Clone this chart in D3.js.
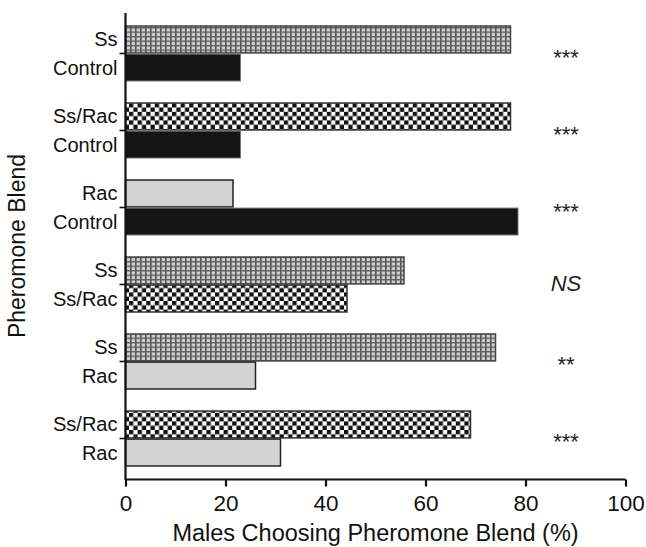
<!DOCTYPE html>
<html>
<head>
<meta charset="utf-8">
<script src="https://cdn.jsdelivr.net/npm/d3@7/dist/d3.min.js"></script>
<style>
  html, body { margin: 0; padding: 0; background: #fff; }
  svg { display: block; font-family: "Liberation Sans", Arial, sans-serif; }
</style>
</head>
<body>
<svg id="chart" width="646" height="547"></svg>
<script>
// ---- data ----
const comparisons = ["Ss vs Control", "Ss/Rac vs Control", "Rac vs Control", "Ss vs Ss/Rac", "Ss vs Rac", "Ss/Rac vs Rac"];
const topLabels = ["Ss", "Ss/Rac", "Rac", "Ss", "Ss", "Ss/Rac"];
const bottomLabels = ["Control", "Control", "Control", "Ss/Rac", "Rac", "Rac"];
const topValues = [77, 77, 21.5, 55.7, 74, 69];
const bottomValues = [23, 23, 78.5, 44.3, 26, 31];
const significance = ["***", "***", "***", "NS", "**", "***"];
const xTicks = [0, 20, 40, 60, 80, 100];

// ---- setup ----
const svg = d3.select("#chart");
const margin = { left: 125.5, right: 20.5, top: 13, bottom: 68 };
const W = 646, H = 547;

const x = d3.scaleLinear().domain([0, 100]).range([margin.left, W - margin.right]);
const y = d3.scaleBand().domain(comparisons).range([margin.top, H - margin.bottom])
  .paddingInner(0.286).paddingOuter(0.169);
const inner = d3.scaleBand().domain(["top", "bottom"]).range([0, y.bandwidth()]).paddingInner(0.04);

// ---- patterns ----
const defs = svg.append("defs");
const grid = defs.append("pattern").attr("id", "grid").attr("patternUnits", "userSpaceOnUse")
  .attr("width", 5).attr("height", 4.5);
grid.append("rect").attr("width", 5).attr("height", 4.5).attr("fill", "#cfcfcf");
grid.append("rect").attr("x", 0).attr("width", 1.6).attr("height", 4.5).attr("fill", "#555");
grid.append("rect").attr("y", 0).attr("width", 5).attr("height", 1.4).attr("fill", "#606060");

const checker = defs.append("pattern").attr("id", "checker").attr("patternUnits", "userSpaceOnUse")
  .attr("width", 8.6).attr("height", 8.6);
checker.append("rect").attr("width", 8.6).attr("height", 8.6).attr("fill", "#fff");
checker.append("rect").attr("width", 4.3).attr("height", 4.3).attr("fill", "#111");
checker.append("rect").attr("x", 4.3).attr("y", 4.3).attr("width", 4.3).attr("height", 4.3).attr("fill", "#111");

const styleFor = {
  "Ss": { fill: "url(#grid)", stroke: "#444", sw: 1.5 },
  "Ss/Rac": { fill: "url(#checker)", stroke: "#333", sw: 1.5 },
  "Control": { fill: "#151515", stroke: "#777", sw: 1 },
  "Rac": { fill: "#d3d3d3", stroke: "#222", sw: 1.5 }
};

// ---- bars ----
const barData = [];
comparisons.forEach((c, i) => {
  barData.push({ comp: c, pos: "top", label: topLabels[i], value: topValues[i] });
  barData.push({ comp: c, pos: "bottom", label: bottomLabels[i], value: bottomValues[i] });
});

svg.append("g").selectAll("rect").data(barData).join("rect")
  .attr("x", x(0))
  .attr("y", d => y(d.comp) + inner(d.pos))
  .attr("width", d => x(d.value) - x(0))
  .attr("height", inner.bandwidth())
  .attr("fill", d => styleFor[d.label].fill)
  .attr("stroke", d => styleFor[d.label].stroke)
  .attr("stroke-width", d => styleFor[d.label].sw);

// bar labels
svg.append("g").selectAll("text").data(barData).join("text")
  .attr("x", margin.left - 8)
  .attr("y", d => y(d.comp) + inner(d.pos) + inner.bandwidth() / 2)
  .attr("dy", "0.35em")
  .attr("text-anchor", "end")
  .attr("font-size", 20)
  .attr("fill", "#111")
  .text(d => d.label);

// ---- axes ----
const xAxis = d3.axisBottom(x).tickValues(xTicks).tickSize(7).tickPadding(9).tickFormat(d3.format("d"));
const gx = svg.append("g").attr("transform", `translate(0,${H - margin.bottom + 0.5})`).call(xAxis);
gx.select(".domain").attr("stroke", "#111").attr("stroke-width", 2.2)
  .attr("d", `M${x(0)},0H${x(100)}`);
gx.selectAll(".tick line").attr("stroke", "#111").attr("stroke-width", 2.2);
gx.selectAll(".tick text").attr("font-size", 22.5).attr("fill", "#111")
  .attr("font-family", "Liberation Sans, Arial, sans-serif");

const yAxis = d3.axisLeft(y).tickSize(6).tickFormat("");
const gy = svg.append("g").attr("transform", `translate(${margin.left},0)`).call(yAxis);
gy.select(".domain").attr("stroke", "#111").attr("stroke-width", 2.2)
  .attr("d", `M0,${margin.top}V${H - margin.bottom + 1}`);
gy.selectAll(".tick line").attr("stroke", "#111").attr("stroke-width", 1.6);

// ---- significance ----
svg.append("g").selectAll("text").data(comparisons).join("text")
  .attr("x", 566)
  .attr("y", (d, i) => y(d) + y.bandwidth() / 2 + (significance[i] === "NS" ? 7 : 11))
  .attr("text-anchor", "middle")
  .attr("font-size", 22)
  .attr("font-style", (d, i) => significance[i] === "NS" ? "italic" : "normal")
  .attr("fill", "#222")
  .text((d, i) => significance[i]);

// ---- titles ----
svg.append("text")
  .attr("x", (x(0) + x(100)) / 2)
  .attr("y", 541)
  .attr("text-anchor", "middle")
  .attr("font-size", 23.5)
  .attr("fill", "#111")
  .text("Males Choosing Pheromone Blend (%)");

svg.append("text")
  .attr("transform", `translate(25,${(margin.top + H - margin.bottom) / 2}) rotate(-90)`)
  .attr("text-anchor", "middle")
  .attr("font-size", 23)
  .attr("fill", "#111")
  .text("Pheromone Blend");
</script>
</body>
</html>
